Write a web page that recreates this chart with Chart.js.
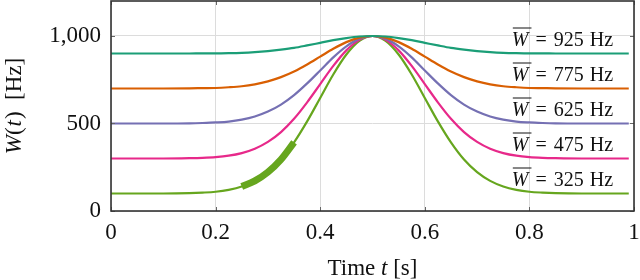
<!DOCTYPE html>
<html>
<head>
<meta charset="utf-8">
<script src="https://cdn.jsdelivr.net/npm/chart.js@4/dist/chart.umd.min.js"></script>
<style>
  body { margin: 0; background: #fff; }
  #caja { width: 640px; height: 280px; }
</style>
</head>
<body>
<div id="caja"><canvas id="grafica"></canvas></div>
<script>
// tiempo t [s]
var tiempo = [0, 0.1, 0.15, 0.175, 0.2, 0.225, 0.25, 0.275, 0.3, 0.325, 0.35, 0.375, 0.4, 0.425, 0.45, 0.475, 0.5,
              0.525, 0.55, 0.575, 0.6, 0.625, 0.65, 0.675, 0.7, 0.725, 0.75, 0.775, 0.8, 0.825, 0.85, 0.9, 0.99];
// W(t) [Hz]
var w925 = [900, 900, 900, 901, 901, 902, 904, 908, 914, 922, 932, 946, 961, 976, 988, 997, 1000,
            997, 988, 976, 961, 946, 932, 922, 914, 908, 904, 902, 901, 901, 900, 900, 900];
var w775 = [700, 700, 701, 702, 703, 707, 713, 724, 741, 765, 797, 837, 882, 927, 965, 991, 1000,
            991, 965, 927, 882, 837, 797, 765, 741, 724, 713, 707, 703, 702, 701, 700, 700];
var w625 = [500, 500, 501, 503, 506, 511, 522, 540, 568, 608, 662, 729, 803, 878, 941, 985, 1000,
            985, 941, 878, 803, 729, 662, 608, 568, 540, 522, 511, 506, 503, 501, 500, 500];
var w475 = [300, 300, 302, 304, 308, 316, 331, 356, 395, 451, 527, 621, 725, 829, 918, 978, 1000,
            978, 918, 829, 725, 621, 527, 451, 395, 356, 331, 316, 308, 304, 302, 300, 300];
var w325 = [100, 100, 102, 105, 110, 121, 140, 172, 222, 294, 392, 512, 646, 780, 894, 972, 1000,
            972, 894, 780, 646, 512, 392, 294, 222, 172, 140, 121, 110, 105, 102, 100, 100];
// tramo resaltado sobre la curva verde
var tramoX = [0.25, 0.275, 0.3, 0.325, 0.35];
var tramoY = [140, 172, 222, 294, 392];

var promedios = [925, 775, 625, 475, 325];
var series = [w925, w775, w625, w475, w325];
var colores = ["#1b9e77", "#d95f02", "#7570b3", "#e7298a", "#66a61e"];
var ticksX = [0, 0.2, 0.4, 0.6, 0.8, 1];
var ticksY = [0, 500, 1000];

var fuente = "'Liberation Serif', 'Times New Roman', serif";

function puntos(xs, ys) {
    return xs.map(function (x, i) { return { x: x, y: ys[i] }; });
}

// dibuja texto con partes en italica
function textoMixto(ctx, partes, x, y, tam, alinear) {
    var total = 0;
    partes.forEach(function (p) {
        ctx.font = (p.it ? "italic " : "") + tam + "px " + fuente;
        p.w = ctx.measureText(p.t).width;
        total += p.w + (p.gap || 0);
    });
    var cx = alinear == "center" ? x - total / 2 : (alinear == "right" ? x - total : x);
    var pos = [];
    partes.forEach(function (p) {
        ctx.font = (p.it ? "italic " : "") + tam + "px " + fuente;
        ctx.textAlign = "left";
        ctx.fillText(p.t, cx, y);
        pos.push({ x: cx, w: p.w });
        cx += p.w + (p.gap || 0);
    });
    return pos;
}

var extras = {
    id: "extras",
    afterDatasetsDraw: function (chart) {
        var ctx = chart.ctx;
        var a = chart.chartArea;
        var sx = chart.scales.x, sy = chart.scales.y;
        ctx.save();
        // marcas interiores
        ctx.strokeStyle = "#666";
        ctx.lineWidth = 1;
        ticksX.forEach(function (v) {
            var px = Math.round(sx.getPixelForValue(v)) + 0.5;
            ctx.beginPath();
            ctx.moveTo(px, a.bottom); ctx.lineTo(px, a.bottom - 4);
            ctx.moveTo(px, a.top); ctx.lineTo(px, a.top + 4);
            ctx.stroke();
        });
        ticksY.forEach(function (v) {
            var py = Math.round(sy.getPixelForValue(v)) + 0.5;
            ctx.beginPath();
            ctx.moveTo(a.left, py); ctx.lineTo(a.left + 4, py);
            ctx.moveTo(a.right, py); ctx.lineTo(a.right - 4, py);
            ctx.stroke();
        });
        // marco
        ctx.strokeStyle = "#333";
        ctx.lineWidth = 1.6;
        ctx.strokeRect(a.left, a.top, a.right - a.left, a.bottom - a.top);

        // etiquetas de promedio
        ctx.fillStyle = "#111";
        ctx.textBaseline = "alphabetic";
        for (var i = 0; i < series.length; i++) {
            var by = sy.getPixelForValue(series[i][0]) - 8;
            var bx = sx.getPixelForValue(0.96);
            var pos = textoMixto(ctx, [
                { t: "W", it: true, gap: 7 },
                { t: "=", gap: 7 },
                { t: String(promedios[i]), gap: 6 },
                { t: "Hz" }
            ], bx, by, 20, "right");
            ctx.strokeStyle = "#111";
            ctx.lineWidth = 1;
            ctx.beginPath();
            ctx.moveTo(pos[0].x + 1, by - 17.5);
            ctx.lineTo(pos[0].x + pos[0].w + 3, by - 17.5);
            ctx.stroke();
        }

        // titulos de ejes
        textoMixto(ctx, [
            { t: "Time ", it: false },
            { t: "t", it: true },
            { t: " [s]", it: false }
        ], (a.left + a.right) / 2, 275, 23, "center");

        ctx.translate(21, (a.top + a.bottom) / 2);
        ctx.rotate(-Math.PI / 2);
        textoMixto(ctx, [
            { t: "W", it: true },
            { t: "(", it: false, gap: 1 },
            { t: "t", it: true, gap: 1 },
            { t: ")  [Hz]", it: false }
        ], 0, 0, 23, "center");
        ctx.restore();
    }
};

var datasets = [{
    data: puntos(tramoX, tramoY),
    borderColor: colores[4],
    borderWidth: 7,
    borderCapStyle: "butt",
    pointRadius: 0,
    cubicInterpolationMode: "monotone",
    order: 0
}];
for (var i = series.length - 1; i >= 0; i--) {
    datasets.push({
        label: "W = " + promedios[i] + " Hz",
        data: puntos(tiempo, series[i]),
        borderColor: colores[i],
        borderWidth: 2.2,
        pointRadius: 0,
        cubicInterpolationMode: "monotone",
        order: i + 1
    });
}

var ctx = document.getElementById("grafica").getContext("2d");
var grafica = new Chart(ctx, {
    type: "line",
    data: { datasets: datasets },
    plugins: [extras],
    options: {
        responsive: true,
        maintainAspectRatio: false,
        animation: false,
        devicePixelRatio: 1,
        layout: { padding: { top: 1, right: 6, left: 0, bottom: 0 } },
        plugins: { legend: { display: false }, tooltip: { enabled: false } },
        scales: {
            x: {
                type: "linear",
                min: 0,
                max: 1,
                afterBuildTicks: function (s) { s.ticks = ticksX.map(function (v) { return { value: v }; }); },
                afterFit: function (s) { s.height = 69; s.paddingLeft = 0; s.paddingRight = 0; },
                grid: { color: "#dcdcdc", lineWidth: 1, drawTicks: false },
                border: { display: false },
                ticks: {
                    padding: 8,
                    color: "#111",
                    font: { family: fuente, size: 23 },
                    callback: function (v) { return String(v); }
                }
            },
            y: {
                type: "linear",
                min: 0,
                max: 1200,
                afterBuildTicks: function (s) { s.ticks = ticksY.map(function (v) { return { value: v }; }); },
                afterFit: function (s) { s.width = 111; s.paddingTop = 0; s.paddingBottom = 0; },
                grid: { color: "#dcdcdc", lineWidth: 1, drawTicks: false },
                border: { display: false },
                ticks: {
                    padding: 10,
                    color: "#111",
                    font: { family: fuente, size: 23 },
                    callback: function (v) { return v.toLocaleString("en-US"); }
                }
            }
        }
    }
});
</script>
</body>
</html>
